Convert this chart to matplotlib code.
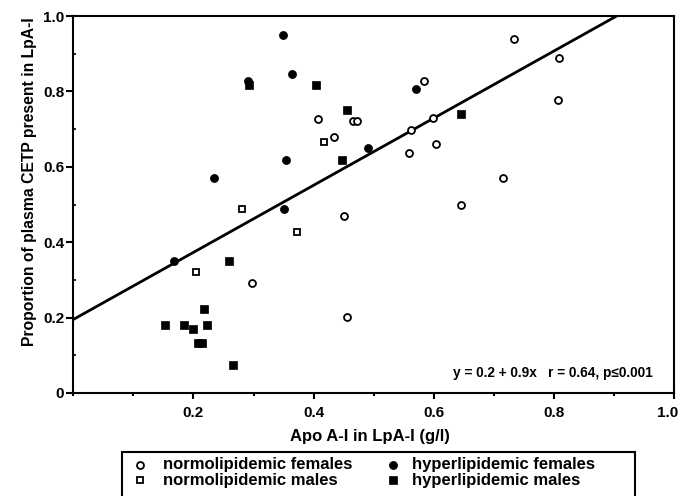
import matplotlib
matplotlib.use("Agg")
import matplotlib.pyplot as plt
from matplotlib.lines import Line2D
from matplotlib.patches import Rectangle
from matplotlib.ticker import FixedLocator, FixedFormatter
from matplotlib.transforms import ScaledTranslation

plt.rcParams['font.family'] = ['Liberation Sans', 'DejaVu Sans']
plt.rcParams['font.weight'] = 'bold'

# ---- data (Apo A-I in LpA-I, proportion of CETP in LpA-I) ----
nf_x = [0.733, 0.809, 0.807, 0.583, 0.599, 0.562, 0.604, 0.559, 0.716, 0.646,
        0.408, 0.466, 0.473, 0.434, 0.450, 0.297, 0.456]
nf_y = [0.938, 0.889, 0.777, 0.828, 0.729, 0.698, 0.660, 0.637, 0.570, 0.500,
        0.728, 0.721, 0.721, 0.679, 0.470, 0.291, 0.202]

nm_x = [0.418, 0.281, 0.372, 0.205]
nm_y = [0.667, 0.487, 0.428, 0.320]

hf_x = [0.349, 0.364, 0.290, 0.571, 0.490, 0.354, 0.234, 0.350, 0.167]
hf_y = [0.950, 0.847, 0.828, 0.806, 0.649, 0.618, 0.569, 0.487, 0.349]

hm_x = [0.293, 0.404, 0.455, 0.646, 0.448, 0.259, 0.217, 0.152, 0.184, 0.200,
        0.222, 0.208, 0.215, 0.266]
hm_y = [0.818, 0.818, 0.750, 0.739, 0.618, 0.350, 0.223, 0.181, 0.181, 0.170,
        0.181, 0.132, 0.132, 0.073]

fit_intercept = 0.195
fit_slope = 0.89
fit_x = [0.0, 0.905]

legend_labels = ["normolipidemic females", "normolipidemic males",
                 "hyperlipidemic females", "hyperlipidemic males"]
annotation = "y = 0.2 + 0.9x   r = 0.64, p\u22640.001"
xlabel = "Apo A-I in LpA-I (g/l)"
ylabel = "Proportion of plasma CETP present in LpA-I"
xtick_vals = [0.2, 0.4, 0.6, 0.8, 1.0]
xtick_labels = ["0.2", "0.4", "0.6", "0.8", "1.0"]
ytick_vals = [0, 0.2, 0.4, 0.6, 0.8, 1.0]
ytick_labels = ["0", "0.2", "0.4", "0.6", "0.8", "1.0"]

W, H = 683, 496
fig = plt.figure(figsize=(W / 100, H / 100), dpi=100)
ax = fig.add_axes([73.3 / W, 1 - 393 / H, (674 - 73.3) / W, (393 - 16) / H])
ax.set_xlim(0, 1.0)
ax.set_ylim(0, 1.0)

# regression line
ax.plot(fit_x, [fit_intercept + fit_slope * v for v in fit_x], color='black',
        lw=2.0, solid_capstyle='butt', zorder=2, clip_on=True)

styles = {
    'nf': dict(marker='o', ms=5.0, mfc='white', mec='black', mew=1.3),
    'nm': dict(marker='s', ms=5.0, mfc='white', mec='black', mew=1.3),
    'hf': dict(marker='o', ms=5.8, mfc='black', mec='black', mew=0.5),
    'hm': dict(marker='s', ms=5.6, mfc='black', mec='black', mew=0.5),
}
ax.plot(nf_x, nf_y, ls='none', zorder=3, **styles['nf'])
ax.plot(nm_x, nm_y, ls='none', zorder=3, **styles['nm'])
ax.plot(hf_x, hf_y, ls='none', zorder=3, **styles['hf'])
ax.plot(hm_x, hm_y, ls='none', zorder=3, **styles['hm'])

for s in ax.spines.values():
    s.set_linewidth(1.5)

ax.xaxis.set_major_locator(FixedLocator(xtick_vals))
ax.xaxis.set_major_formatter(FixedFormatter(xtick_labels))
ax.xaxis.set_minor_locator(FixedLocator([0.0, 0.1, 0.3, 0.5, 0.7, 0.9]))
ax.yaxis.set_major_locator(FixedLocator(ytick_vals))
ax.yaxis.set_major_formatter(FixedFormatter(ytick_labels))
ax.yaxis.set_minor_locator(FixedLocator([0.1, 0.3, 0.5, 0.7, 0.9]))

ax.tick_params(axis='x', which='major', direction='out', length=4, width=1.5,
               pad=5.5, labelsize=11)
ax.tick_params(axis='x', which='minor', direction='out', length=2.5, width=1.5)
ax.tick_params(axis='y', which='major', direction='out', length=5, width=1.5,
               pad=1.5, labelsize=11)
ax.tick_params(axis='y', which='minor', direction='in', length=2, width=1.2)
for lab in ax.get_xticklabels() + ax.get_yticklabels():
    lab.set_fontweight('bold')

# keep the last x tick label inside the figure
last = ax.xaxis.get_major_ticks()[-1].label1
last.set_transform(last.get_transform() + ScaledTranslation(-6 / 100, 0, fig.dpi_scale_trans))

ax.set_xlabel(xlabel, fontsize=12, fontweight='bold', va='center')
ax.xaxis.set_label_coords((370 - 73.3) / 600.7, (393 - 436) / 377)
ax.set_ylabel(ylabel, fontsize=11.3, fontweight='bold', va='center')
ax.yaxis.set_label_coords((30 - 73.3) / 600.7, (393 - 182) / 377)

ax.text((653 - 73.3) / 600.7, (393 - 373) / 377, annotation, transform=ax.transAxes,
        ha='right', va='center', fontsize=9.8, fontweight='bold')

# legend (frame extends past the bottom edge as in the reference)
fig.add_artist(Rectangle((122 / W, -0.05), (635 - 122) / W, (1 - 452 / H) + 0.05,
                         transform=fig.transFigure, fill=False, lw=1.5,
                         edgecolor='black'))
leg_keys = ['nf', 'nm', 'hf', 'hm']
leg_pos = [(140, 163, 465), (140, 163, 480), (393, 412, 465), (393, 412, 480)]
for key, lab, (mx, tx, py) in zip(leg_keys, legend_labels, leg_pos):
    st = dict(styles[key])
    fig.add_artist(Line2D([mx / W], [1 - py / H], transform=fig.transFigure,
                          ls='none', **st))
    fig.text(tx / W, 1 - py / H, lab, ha='left', va='center', fontsize=12,
             fontweight='bold')

fig.savefig("out.png", dpi=100)
